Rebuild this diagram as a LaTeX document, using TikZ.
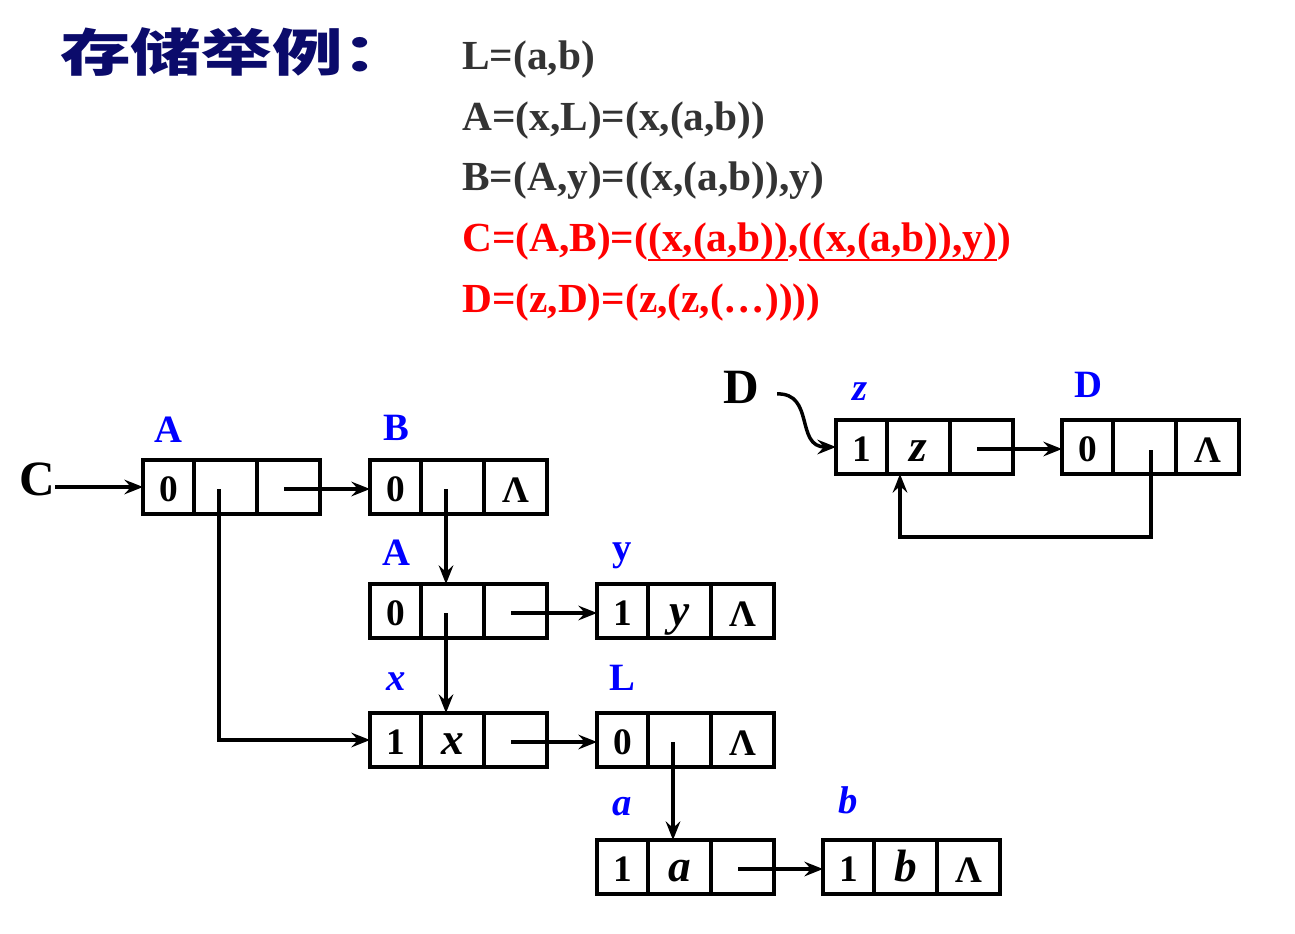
\documentclass[tikz,border=0pt]{standalone}
\usepackage{fontspec}
\usepackage{graphicx}
\setmainfont{Liberation Serif}
\newfontfamily\cjk{Noto Sans CJK SC}
\usetikzlibrary{arrows.meta,calc}
\definecolor{navy}{HTML}{0B0B6B}
\definecolor{txtgray}{HTML}{333333}
\definecolor{lblue}{HTML}{0000FF}
\newcommand\redul[1]{\setbox0\hbox{#1}\rlap{\rule[-0.22em]{\wd0}{0.06em}}\box0}
\tikzset{
  listbox/.style={draw, line width=3pt, minimum width=132.75pt, minimum height=40.5pt, inner sep=0pt, outer sep=0pt},
  divider/.style={line width=3pt},
  celltext/.style={anchor=base, inner sep=0pt, font=\bfseries\fontsize{28}{30}\selectfont},
  celltextit/.style={celltext, font=\bfseries\itshape\fontsize{34}{36}\selectfont},
  lbl/.style={anchor=base, inner sep=0pt, text=lblue, font=\bfseries\fontsize{29}{31}\selectfont},
  lblit/.style={lbl, font=\bfseries\itshape\fontsize{29}{31}\selectfont},
  biglbl/.style={anchor=base, inner sep=0pt, font=\bfseries\fontsize{37}{40}\selectfont},
  formula/.style={anchor=base west, inner sep=0pt, text=txtgray, font=\bfseries\fontsize{31}{33}\selectfont},
  pointer/.style={line width=2.6pt, arrows={-Stealth[length=14pt,width=11pt,inset=5pt]}}
}
\newcommand\glist[7]{%
  \node[listbox, anchor=north west] (#1) at (#2,#3) {};
  \draw[divider] ($(#1.north west)+(51,0)$) -- ($(#1.south west)+(51,0)$);
  \draw[divider] ($(#1.north west)+(114,0)$) -- ($(#1.south west)+(114,0)$);
  \node[celltext] (#1-1) at ($(#1.north west)+(25.5,41)$) {#4};
  \node[#7] (#1-2) at ($(#1.north west)+(82.5,41)$) {#5};
  \node[celltext] (#1-3) at ($(#1.north west)+(145.5,42)$) {#6};
  \coordinate (#1-p2) at ($(#1.north west)+(76,29)$);
  \coordinate (#1-p3) at ($(#1.north west)+(141,29)$);
}
\begin{document}
\begin{tikzpicture}[x=0.75pt,y=-0.75pt]
\useasboundingbox (0,0) rectangle (1295,934);
% title
\node[anchor=west, inner sep=0pt, text=navy, font=\fontsize{53}{56}\selectfont] (title) at (60,52) {\scalebox{1}[0.72]{\cjk\bfseries 存储举例：}};
% formulas
\node[formula] (f1) at (462,70) {L=(a,b)};
\node[formula] (f2) at (462,131) {A=(x,L)=(x,(a,b))};
\node[formula] (f3) at (462,191) {B=(A,y)=((x,(a,b)),y)};
\node[formula, text=red] (f4) at (462,252) {C=(A,B)=(\redul{(x,(a,b))},\redul{((x,(a,b)),y)})};
\node[formula, text=red] (f5) at (462,312) {D=(z,D)=(z,(z,(\dots))))};
% lists
\glist{A}{143}{460}{0}{}{}{celltext}
\glist{B}{370}{460}{0}{}{Λ}{celltext}
\glist{A2}{370}{584}{0}{}{}{celltext}
\glist{ny}{597}{584}{1}{y}{Λ}{celltextit}
\glist{nx}{370}{713}{1}{x}{}{celltextit}
\glist{L}{597}{713}{0}{}{Λ}{celltext}
\glist{na}{597}{840}{1}{a}{}{celltextit}
\glist{nb}{823}{840}{1}{b}{Λ}{celltextit}
\glist{nz}{836}{420}{1}{z}{}{celltextit}
\glist{D}{1062}{420}{0}{}{Λ}{celltext}
% labels
\node[lbl] (lA) at (168,442) {A};
\node[lbl] (lB) at (396,440) {B};
\node[lbl] (lA2) at (396,565) {A};
\node[lbl] (ly) at (622,560) {y};
\node[lblit] (lx) at (396,690) {x};
\node[lbl] (lL) at (622,690) {L};
\node[lblit] (la) at (622,815) {a};
\node[lblit] (lb) at (848,813) {b};
\node[lblit] (lz) at (860,400) {z};
\node[lbl] (lD) at (1088,397) {D};
\node[biglbl] (C) at (37,495) {C};
\node[biglbl] (Dl) at (741,403) {D};
% connectors
\draw[pointer] (C.east |- A.west) -- (A.west);
\draw[pointer] (A-p3) -- (A-p3 -| B.west);
\draw[pointer] (A-p2) |- (nx.west);
\draw[pointer] (B-p2) -- (B-p2 |- A2.north);
\draw[pointer] (A2-p3) -- (A2-p3 -| ny.west);
\draw[pointer] (A2-p2) -- (A2-p2 |- nx.north);
\draw[pointer] (nx-p3) -- (nx-p3 -| L.west);
\draw[pointer] (L-p2) -- (L-p2 |- na.north);
\draw[pointer] (na-p3) -- (na-p3 -| nb.west);
\draw[pointer] (nz-p3) -- (nz-p3 -| D.west);
\coordinate (Dq) at ($(D.north west)+(89,30)$);
\coordinate (loopc) at (900,537);
\draw[pointer] (Dq) |- (loopc) -- (loopc |- nz.south);
\coordinate (dstart) at ($(Dl.east)+(18,7)$);
\draw[pointer] (dstart) .. controls (815,393) and (795,447) .. (nz.west);
\end{tikzpicture}
\end{document}
